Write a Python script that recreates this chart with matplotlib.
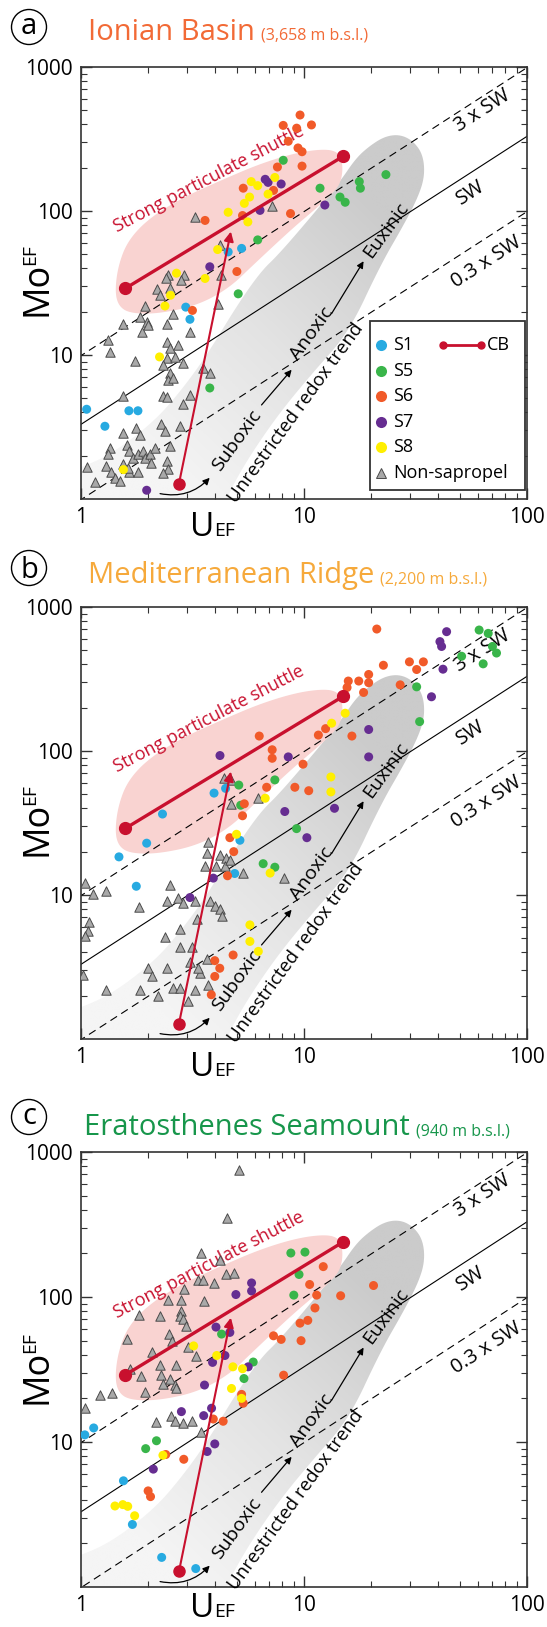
import numpy as np
import matplotlib
matplotlib.use("Agg")
import matplotlib.pyplot as plt
from matplotlib.patches import Polygon, Rectangle, Ellipse, FancyArrowPatch
from matplotlib.colors import LinearSegmentedColormap

plt.rcParams["font.family"] = ["Open Sans", "DejaVu Sans"]

# ---------------- data: (U_EF, Mo_EF) ----------------
A_S1 = [(5.25, 55), (4.57, 52), (2.95, 21.5), (3.08, 17.7), (1.06, 4.2), (1.64, 4.1),
        (1.80, 4.1), (1.28, 3.2)]
A_S5 = [(8.07, 225), (11.8, 144), (17.7, 160), (17.9, 144), (14.5, 125), (15.3, 115),
        (6.2, 63), (23.3, 179), (3.78, 5.9), (5.07, 26.6)]
A_S6 = [(9.6, 464), (8.07, 393), (9.27, 376), (10.8, 396), (8.5, 305), (9.4, 274),
        (9.8, 258), (9.8, 205), (7.6, 202), (5.34, 144), (7.3, 139), (5.3, 93),
        (8.7, 96), (3.6, 86), (5.0, 38), (3.16, 20.4)]
A_S7 = [(6.9, 158), (7.9, 154), (6.7, 166), (6.35, 101), (12.4, 110), (3.78, 41),
        (1.97, 1.15)]
A_S8 = [(5.8, 160), (6.2, 150), (7.4, 171), (6.9, 131), (5.7, 125), (5.4, 113),
        (4.57, 98), (5.6, 84), (4.1, 54), (2.68, 37), (3.6, 34), (2.52, 26),
        (2.38, 21.9), (2.25, 9.7), (1.55, 1.6)]
A_NS = [(3.24, 91), (4.2, 58), (2.46, 36), (2.4, 34), (2.9, 36), (2.8, 33), (4.25, 36),
        (7.2, 109), (2.2, 28.6), (2.5, 29),
        (2.25, 25.9), (1.93, 21.9), (1.83, 18.4), (1.97, 16.9), (2.0, 16.1), (1.54, 16.5),
        (2.42, 16.5), (1.87, 14.5), (2.59, 19.4), (3.08, 14.5), (1.32, 12.7), (1.35, 10.5),
        (1.74, 9.1), (2.42, 12.4), (2.50, 11.1), (2.73, 11.7), (2.42, 9.5), (2.33, 8.5),
        (2.63, 9.7), (2.87, 8.8), (2.50, 7.5), (2.46, 6.7), (2.59, 6.9), (3.53, 8.1),
        (3.78, 7.5), (2.33, 5.2), (2.42, 5.1), (3.08, 5.3), (2.87, 4.6), (1.54, 5.2),
        (2.78, 3.2), (2.29, 3.3), (2.37, 2.96), (1.77, 3.1), (1.83, 2.8), (1.54, 2.88),
        (2.50, 2.33), (1.35, 2.27), (1.32, 2.04), (1.60, 2.39), (1.65, 2.15), (1.71, 1.94),
        (1.80, 2.04), (1.90, 2.15), (1.93, 1.94), (2.03, 2.04), (2.07, 1.79), (2.14, 2.27),
        (1.54, 1.74), (2.42, 1.84), (2.46, 1.61), (1.30, 1.70), (1.37, 1.53), (1.42, 1.41),
        (1.49, 1.34), (1.65, 1.53), (1.80, 1.53), (1.63, 1.65), (2.33, 1.51), (1.15, 1.32),
        (1.06, 1.67), (4.12, 22.7)]

B_S1 = [(3.95, 51), (2.32, 36.5), (4.45, 55), (1.97, 22.9), (1.48, 18.4), (1.77, 11.5),
        (5.16, 24), (4.89, 14.1)]
B_S5 = [(32, 279), (33, 160), (61, 692), (67, 656), (70, 532), (73, 479), (63.6, 403),
        (50.9, 455), (7.4, 63), (5.1, 58), (5.2, 42), (9.26, 28.9), (6.56, 16.5),
        (7.4, 15.6)]
B_S6 = [(21.2, 703), (29.7, 416), (32, 368), (34.3, 416), (22.7, 394), (27, 288),
        (15.8, 306), (17.6, 306), (19.5, 340), (19.5, 298), (15.6, 276), (18.5, 255),
        (12.5, 143), (11.6, 129), (16.4, 127), (6.3, 127), (7.2, 102), (7.2, 89),
        (9.9, 81), (6.8, 56), (9.1, 56), (10.5, 53), (5.4, 43), (5.3, 35.5), (4.65, 25),
        (4.84, 20), (4.54, 13.6), (4.81, 3.83), (3.98, 3.5), (4.19, 3.1), (3.98, 2.72),
        (3.84, 2.03)]
B_S7 = [(43.6, 674), (40.7, 575), (41.4, 532), (42, 370), (37.3, 238), (19.5, 141),
        (19.5, 91), (8.5, 91), (4.2, 93), (8.2, 38), (13.7, 40), (10.3, 25), (3.92, 13.1),
        (3.08, 9.6)]
B_S8 = [(15.3, 183), (13.3, 156), (13.2, 66), (13.2, 52), (6.7, 47), (4.98, 26.4),
        (7.05, 14.2), (5.72, 6.2), (5.72, 4.76), (6.24, 4.06)]
B_NS = [(4.4, 65), (4.7, 63), (4.7, 43), (6.2, 47),
        (3.72, 23.4), (3.66, 19.6), (4.19, 19.1), (4.49, 18.0), (4.42, 15.8), (3.59, 15.8),
        (4.05, 15.8), (4.65, 17.5), (5.34, 14.2), (8.1, 13.1), (1.04, 12.2), (1.13, 10.1),
        (1.30, 10.6), (2.5, 11.8), (2.42, 9.1), (1.82, 8.2), (2.73, 9.6), (2.87, 8.85),
        (3.24, 9.1), (3.78, 9.1), (3.98, 8.4), (4.19, 8.0), (4.27, 7.2), (3.30, 6.8),
        (1.09, 6.5), (1.08, 5.65), (1.04, 5.2), (2.78, 5.8), (2.37, 5.1), (2.78, 4.35),
        (3.13, 4.35), (3.08, 3.44), (2.0, 3.1), (2.42, 3.1), (2.09, 2.72), (3.66, 3.6),
        (3.41, 2.86), (3.72, 2.38), (2.59, 2.26), (2.78, 2.26), (3.24, 2.2), (2.21, 1.98),
        (1.83, 2.2), (1.30, 2.2), (1.02, 2.79), (3.02, 1.83), (3.36, 3.1)]

C_S1 = [(1.04, 11.2), (1.14, 12.5), (1.55, 5.4), (1.70, 2.7), (2.3, 1.6), (3.27, 1.34)]
C_S5 = [(8.73, 201), (10.1, 204), (9.5, 143), (9.0, 103), (4.27, 55.5), (5.92, 35.6),
        (1.95, 9.0), (2.18, 10.2), (5.38, 27.4)]
C_S6 = [(12.2, 162), (10.6, 122), (11.4, 103), (14.6, 102), (20.5, 120), (11.2, 84),
        (9.6, 66), (10.4, 69), (7.3, 54), (7.9, 51), (9.7, 50), (2.89, 7.6), (2.4, 8.2),
        (2.0, 4.6), (2.05, 4.2), (3.92, 14.4), (4.34, 13.9), (5.25, 21.3), (5.34, 18.5),
        (8.1, 28.9)]
C_S7 = [(5.82, 125), (5.82, 110), (4.95, 104), (4.03, 62), (4.65, 57), (3.89, 35.4),
        (4.42, 39.5), (2.11, 6.5), (2.82, 16.2), (3.55, 15.2), (3.58, 24.7), (3.85, 17.1),
        (3.68, 8.6), (3.98, 9.7), (5.62, 33)]
C_S8 = [(3.2, 46), (4.06, 39.5), (4.8, 33), (5.3, 32), (1.42, 3.62), (1.54, 3.7),
        (1.62, 3.6), (1.74, 3.1), (2.33, 8.1), (4.73, 23.4), (5.25, 20)]
C_NS = [(5.12, 749), (4.5, 349), (3.44, 201), (4.2, 181), (3.35, 132), (3.53, 131),
        (3.96, 125), (4.46, 143), (4.85, 146), (2.9, 113), (2.46, 96), (2.82, 96),
        (3.55, 94), (1.82, 75), (2.26, 74), (2.82, 80), (2.79, 74), (2.87, 70), (2.95, 63),
        (1.6, 51), (2.48, 55.5), (2.55, 50), (2.09, 42), (2.68, 33.7), (2.26, 33.7),
        (3.03, 45), (3.29, 39.2), (1.66, 32), (1.85, 28.7), (2.29, 28.9), (2.33, 25.3),
        (2.5, 27.4), (2.63, 24.7), (2.68, 23.4), (1.93, 22.2), (1.22, 21.1), (1.38, 21.7),
        (1.04, 17.1), (2.18, 13.8), (2.54, 15), (2.63, 13.9), (2.87, 13.5), (3.13, 13.9),
        (3.47, 11.8)]

GROUPS = ["S1", "S5", "S6", "S7", "S8"]
COLORS = {"S1": "#27AAE1", "S5": "#39B54A", "S6": "#F15A29", "S7": "#662D91", "S8": "#FFEF00"}
CB_COLOR = "#C8102E"

# reference lines: Mo/U of seawater (enrichment-factor units)
SW_RATIO = 3.3
SW_MULT = [3.0, 1.0, 0.3]
SW_LABELS = [("3 x SW", (63, 500)), ("SW", (56, 133)), ("0.3 x SW", (66, 44))]

# CB (Cariaco Basin) trend and arrow
CB_U, CB_MO = [1.58, 15.0], [29, 240]
CB_ARROW = [(2.75, 1.28), (4.7, 72)]

# shaded fields (U_EF, Mo_EF outline)
PINK = [(1.42, 28), (1.47, 42), (1.62, 62), (2.0, 88), (2.8, 122), (4.2, 162),
        (6.3, 212), (9.3, 255), (12.5, 270), (14.3, 255), (14.9, 215), (14.8, 170),
        (14.0, 140), (11, 100), (8.9, 76), (5.9, 42), (4.6, 29), (3.3, 22), (2.2, 19.3),
        (1.65, 19.5), (1.47, 22)]
BAND = [(0.8, 0.8), (4.3, 0.8), (4.6, 1.1), (5.6, 1.9), (7.7, 3.9), (11, 7.6),
        (15.9, 14.4), (22, 42), (28, 80), (32.5, 125), (34.8, 175), (34.2, 245),
        (31, 305), (27, 340), (23, 330), (19.5, 280), (17, 230), (14.5, 160), (11, 95),
        (7.7, 50), (6.4, 38), (5.0, 22), (3.7, 10.2), (2.87, 5.9), (2.15, 3.5),
        (1.39, 2.08), (1.0, 1.65), (0.8, 1.5)]

PANELS = [
    ("a", "Ionian Basin", "(3,658 m b.s.l.)", "#F26A36",
     {"S1": A_S1, "S5": A_S5, "S6": A_S6, "S7": A_S7, "S8": A_S8}, A_NS),
    ("b", "Mediterranean Ridge", "(2,200 m b.s.l.)", "#F6A93B",
     {"S1": B_S1, "S5": B_S5, "S6": B_S6, "S7": B_S7, "S8": B_S8}, B_NS),
    ("c", "Eratosthenes Seamount", "(940 m b.s.l.)", "#17964B",
     {"S1": C_S1, "S5": C_S5, "S6": C_S6, "S7": C_S7, "S8": C_S8}, C_NS),
]

# ---------------- layout (pixels of the 547 x 1627 output) ----------------
W, H = 547, 1627
AX_L, AX_R = 81, 527
AX_TOP = [67, 607, 1152]
AX_BOT = [499, 1039, 1587]
XLAB_BASE = [536, 1076, 1617]
TITLE_BASE = [40, 583, 1135]
TITLE_X = [88, 88, 84]
CIRC_Y = [27, 568, 1117]


def fxy(x, y):
    return x / W, 1 - y / H


def chaikin(pts, n=4):
    p = np.log10(np.asarray(pts, float))
    for _ in range(n):
        q = np.roll(p, -1, axis=0)
        new = np.empty((2 * len(p), 2))
        new[0::2] = 0.75 * p + 0.25 * q
        new[1::2] = 0.25 * p + 0.75 * q
        p = new
    return 10 ** p


gray_cmap = LinearSegmentedColormap.from_list("g", ["#F5F5F5", "#E3E3E3", "#CBCBCB"])

fig = plt.figure(figsize=(W / 100, H / 100), dpi=100)
renderer = fig.canvas.get_renderer()

for i, (letter, name, depth, tcol, groups, ns) in enumerate(PANELS):
    x0, y0 = fxy(AX_L, AX_BOT[i])
    ax = fig.add_axes([x0, y0, (AX_R - AX_L) / W, (AX_BOT[i] - AX_TOP[i]) / H])
    ax.set_xscale("log")
    ax.set_yscale("log")

    # unrestricted redox trend band with gradient
    band = Polygon(chaikin(BAND), closed=True, facecolor="none", edgecolor="none")
    ax.add_patch(band)
    gx, gy = np.meshgrid(np.linspace(0, 1, 300), np.linspace(0, 1, 300))
    t = np.clip((0.5 * gx + 0.5 * gy - 0.12) / 0.55, 0, 1)
    im = ax.imshow(t, extent=(0, 1, 0, 1), origin="lower", transform=ax.transAxes,
                   cmap=gray_cmap, vmin=0, vmax=1, aspect="auto", zorder=0.5,
                   interpolation="bilinear")
    im.set_clip_path(band)

    ax.add_patch(Polygon(chaikin(PINK), closed=True, facecolor="#F9D3D1",
                         edgecolor="none", zorder=0.8))

    # seawater reference lines
    uu = np.array([0.5, 300.0])
    ax.plot(uu, SW_RATIO * SW_MULT[0] * uu, color="k", lw=0.8, ls=(0, (7, 4.5)), zorder=2)
    ax.plot(uu, SW_RATIO * SW_MULT[1] * uu, color="k", lw=0.8, zorder=2)
    ax.plot(uu, SW_RATIO * SW_MULT[2] * uu, color="k", lw=0.8, ls=(0, (7, 4.5)), zorder=2)
    for txt, (u, m) in SW_LABELS:
        ax.text(u, m, txt, rotation=33, ha="center", va="center", fontsize=14.5,
                rotation_mode="anchor", zorder=2.5)

    # redox trend annotations
    ax.text(3.76, 166, "Strong particulate shuttle", rotation=27.5, color=CB_COLOR,
            fontsize=13, ha="center", va="center", rotation_mode="anchor", zorder=3)
    ax.text(9.2, 3.95, "Unrestricted redox trend", rotation=54, fontsize=13.5,
            ha="center", va="center", rotation_mode="anchor", zorder=3)
    ax.text(5.0, 2.55, "Suboxic", rotation=54, fontsize=14, ha="center", va="center",
            rotation_mode="anchor", zorder=3)
    ax.text(10.8, 14.0, "Anoxic", rotation=54, fontsize=14, ha="center", va="center",
            rotation_mode="anchor", zorder=3)
    ax.text(23.3, 74, "Euxinic", rotation=54, fontsize=14, ha="center", va="center",
            rotation_mode="anchor", zorder=3)
    ax.add_patch(FancyArrowPatch((2.2, 1.1), (3.85, 1.45), connectionstyle="arc3,rad=0.3",
                                 arrowstyle="-|>", mutation_scale=10, lw=0.9, color="k",
                                 zorder=3))
    for a, b in [((6.45, 4.5), (8.8, 7.9)), ((13.3, 19.4), (18.5, 44.8))]:
        ax.annotate("", xy=b, xytext=a, zorder=3,
                    arrowprops=dict(arrowstyle="-|>", lw=0.9, color="k", mutation_scale=10,
                                    shrinkA=0, shrinkB=0))

    # samples
    nsu, nsm = zip(*ns)
    ax.scatter(nsu, nsm, marker="^", s=46, facecolor="#A9A9A9", edgecolor="#4A4A4A",
               linewidths=0.7, zorder=4)
    for g in GROUPS:
        u, m = zip(*groups[g])
        ax.scatter(u, m, s=42, color=COLORS[g], edgecolors="none", zorder=4.5)

    # CB trend + arrow
    ax.plot(CB_U, CB_MO, color=CB_COLOR, lw=2.4, marker="o", ms=8.5, zorder=5)
    ax.annotate("", xy=CB_ARROW[1], xytext=CB_ARROW[0], zorder=5,
                arrowprops=dict(arrowstyle="-|>", lw=1.5, color=CB_COLOR, mutation_scale=14,
                                shrinkA=0, shrinkB=0))
    ax.plot([CB_ARROW[0][0]], [CB_ARROW[0][1]], "o", color=CB_COLOR, ms=8, zorder=5)

    ax.set_xlim(1, 100)
    ax.set_ylim(1, 1000)
    ax.set_xticks([1, 10, 100])
    ax.set_xticklabels(["1", "10", "100"])
    ax.set_yticks([10, 100, 1000])
    ax.set_yticklabels(["10", "100", "1000"])
    ax.tick_params(which="both", direction="in", top=True, right=True, labelsize=15,
                   pad=6, color="#333333")
    ax.tick_params(which="major", length=8, width=1.0)
    ax.tick_params(which="minor", length=4, width=0.8)
    for sp in ax.spines.values():
        sp.set_color("#333333")
        sp.set_linewidth(1.2)

    # legend (panel a only)
    if i == 0:
        lx0, lx1 = (370 - AX_L) / (AX_R - AX_L), (525 - AX_L) / (AX_R - AX_L)
        hgt = AX_BOT[i] - AX_TOP[i]
        ly0, ly1 = (AX_BOT[i] - 490) / hgt, (AX_BOT[i] - 321) / hgt
        ax.add_patch(Rectangle((lx0, ly0), lx1 - lx0, ly1 - ly0, transform=ax.transAxes,
                               facecolor="white", edgecolor="#333333", lw=1.3, zorder=6))
        labels = GROUPS + ["Non-sapropel"]
        for k, lab in enumerate(labels):
            yy = (AX_BOT[i] - (345 + 25.6 * k)) / hgt
            mx = (381 - AX_L) / (AX_R - AX_L)
            if lab == "Non-sapropel":
                ax.plot([mx], [yy], "^", ms=7.5, mfc="#A9A9A9", mec="#4A4A4A", mew=0.7,
                        transform=ax.transAxes, zorder=7)
            else:
                ax.plot([mx], [yy], "o", ms=8, color=COLORS[lab], mec="none",
                        transform=ax.transAxes, zorder=7)
            ax.text((393 - AX_L) / (AX_R - AX_L), yy, lab, transform=ax.transAxes,
                    fontsize=13, va="center", ha="left", zorder=7)
        yy = (AX_BOT[i] - 345) / hgt
        ax.plot([(443 - AX_L) / (AX_R - AX_L), (481 - AX_L) / (AX_R - AX_L)], [yy, yy],
                color=CB_COLOR, lw=2, marker="o", ms=5, transform=ax.transAxes, zorder=7)
        ax.text((487 - AX_L) / (AX_R - AX_L), yy, "CB", transform=ax.transAxes,
                fontsize=13, va="center", ha="left", zorder=7)

    # axis labels (big letters with small-caps suffix)
    tu = fig.text(*fxy(190, XLAB_BASE[i]), "U", fontsize=24, ha="left", va="baseline")
    wu = tu.get_window_extent(renderer).width
    fig.text(*fxy(190 + wu, XLAB_BASE[i]), "EF", fontsize=14, ha="left", va="baseline")
    tm = fig.text(*fxy(19, AX_BOT[i] - 183), "Mo", fontsize=26, rotation=90, ha="left",
                  va="bottom")
    hm = tm.get_window_extent(renderer).height
    fig.text(*fxy(21, AX_BOT[i] - 183 - hm + 3), "EF", fontsize=14, rotation=90,
             ha="left", va="bottom")

    # title
    cx, cy = fxy(29, CIRC_Y[i])
    fig.add_artist(Ellipse((cx, cy), 35 / W, 35 / H, transform=fig.transFigure,
                           facecolor="none", edgecolor="k", lw=1.0))
    off = 10 if letter == "b" else 7.5
    fig.text(*fxy(29, CIRC_Y[i] + off), letter, fontsize=21, ha="center", va="baseline")
    tt = fig.text(*fxy(TITLE_X[i], TITLE_BASE[i]), name, fontsize=21, color=tcol,
                  ha="left", va="baseline")
    wt = tt.get_window_extent(renderer).width
    fig.text(*fxy(TITLE_X[i] + wt + 6, TITLE_BASE[i]), depth, fontsize=11.5, color=tcol,
             ha="left", va="baseline")

fig.savefig("out.png", dpi=100)
